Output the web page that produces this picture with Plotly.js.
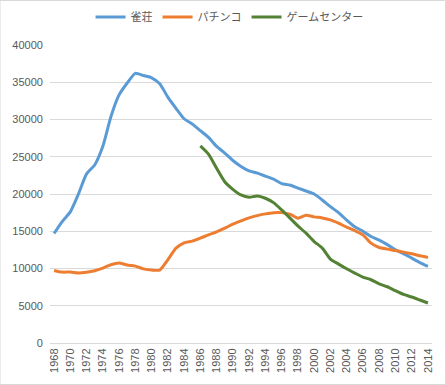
<!DOCTYPE html>
<html><head><meta charset="utf-8">
<script src="https://cdn.plot.ly/plotly-3.0.1.min.js"></script>
<style>html,body{margin:0;padding:0;background:#fff}#c{width:446px;height:385px}</style>
</head><body><div id="c"></div>
<script>
const years = [];
for (let y = 1968; y <= 2014; y++) years.push(y);
const seriesNames = ["雀荘", "パチンコ", "ゲームセンター"];
const mahjong = [14700,16300,17600,20000,22700,23900,26400,30400,33300,34900,36200,35900,35600,34800,33000,31500,30100,29400,28500,27600,26400,25500,24500,23700,23100,22800,22400,22000,21400,21200,20800,20400,20000,19200,18300,17500,16500,15600,15000,14300,13800,13200,12500,12000,11400,10800,10300];
const pachinko = [9740,9520,9520,9400,9500,9700,10050,10500,10730,10460,10320,9950,9790,9790,11170,12730,13450,13670,14070,14520,14920,15410,15950,16390,16790,17100,17330,17500,17500,17300,16750,17150,16930,16790,16530,16080,15550,15090,14520,13400,12820,12600,12410,12200,11970,11700,11480];
const gameYears = years.slice(18);
const gamecenter = [26470,25360,23450,21650,20630,19870,19560,19740,19430,18840,17860,16800,15720,14740,13620,12730,11260,10590,9960,9390,8850,8490,7950,7550,7020,6520,6170,5770,5370];
const xTicks = years.filter(y => y % 2 === 0);
const colors = ["#5B9BD5", "#ED7D31", "#548235"];

const mk = (x, y, i) => ({x, y, name: seriesNames[i], type: "scatter", mode: "lines",
  line: {color: colors[i], width: 3, shape: "spline", smoothing: 0.6}});
const data = [mk(years, mahjong, 0), mk(years, pachinko, 1), mk(gameYears, gamecenter, 2)];
const layout = {
  width: 446, height: 385,
  margin: {l: 50, r: 14, t: 45, b: 42, autoexpand: false},
  paper_bgcolor: "#fff", plot_bgcolor: "#fff",
  font: {family: "Liberation Sans, Arial, sans-serif", size: 11, color: "#595959"},
  showlegend: true,
  legend: {orientation: "h", x: 0.47, xanchor: "center", y: 1 + 28/298, yanchor: "middle",
    font: {family: "Noto Sans CJK JP, sans-serif", size: 11, color: "#595959"},
    itemwidth: 30, tracegroupgap: 0},
  xaxis: {range: [1967.5, 2014.5], tickmode: "array", tickvals: xTicks, ticktext: xTicks.map(String),
    tickangle: -90, showgrid: false, showline: true, linecolor: "#d9d9d9", linewidth: 1,
    ticks: "", zeroline: false, fixedrange: true, tickfont: {size: 11, color: "#595959"}, automargin: false},
  yaxis: {range: [0, 40000], dtick: 5000, showgrid: true, gridcolor: "#d9d9d9", gridwidth: 1,
    zeroline: false, showline: false, ticks: "", ticksuffix: "  ", tickfont: {size: 11, color: "#595959"},
    tickformat: "d", fixedrange: true, automargin: false},
  shapes: [{type: "rect", xref: "paper", yref: "paper", x0: -50/382, x1: 1 + 13.5/382, y0: -41.5/298, y1: 1 + 44.5/298,
    line: {color: "#d9d9d9", width: 1}, fillcolor: "rgba(0,0,0,0)"}]
};
Plotly.newPlot("c", data, layout, {displayModeBar: false, staticPlot: true});
</script></body></html>
